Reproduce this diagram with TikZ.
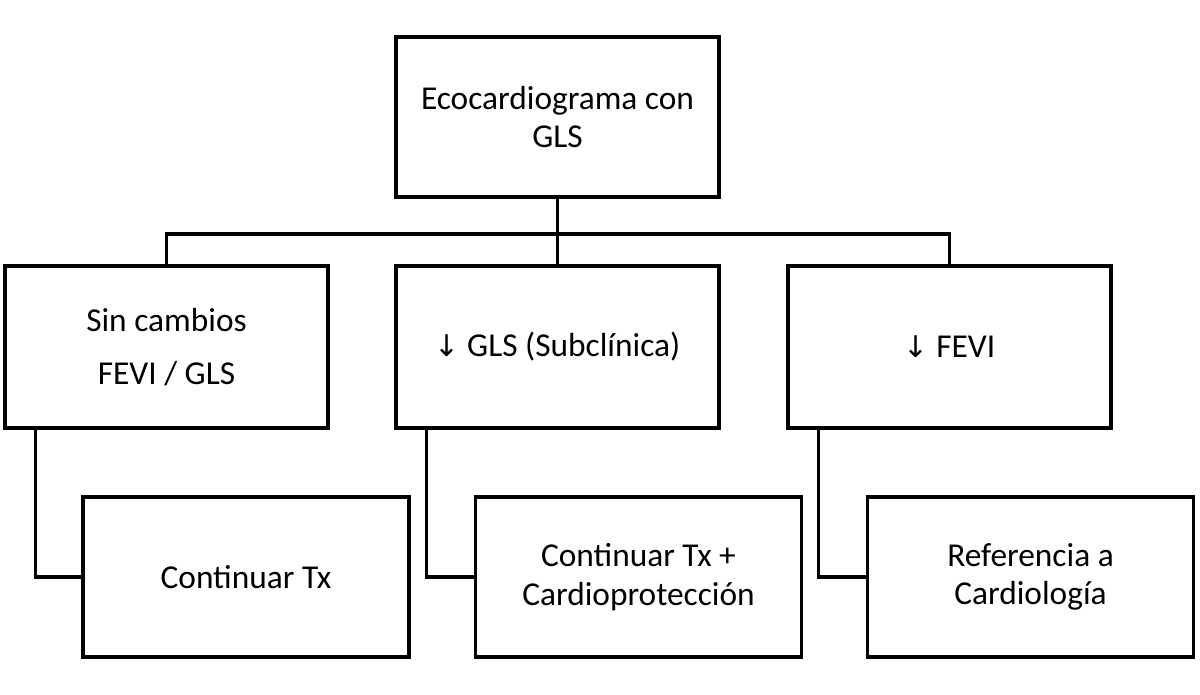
\documentclass[tikz,border=0pt]{standalone}
\usepackage{fontspec}
\setmainfont{Carlito}
\newfontfamily\arrowfont{DejaVu Sans}
\begin{document}
\begin{tikzpicture}[x=0.02cm, y=-0.02cm, line width=1.8pt,
   box/.style={draw=black, rectangle, align=center, font=\fontsize{19}{22}\selectfont,
      minimum width=323*0.02cm, minimum height=160*0.02cm, inner sep=0pt}]
   \useasboundingbox (0,0) rectangle (1200,695);
   %% nivel superior
   \node[box] (eco) at (557.5,117) {Ecocardiograma con\\GLS};
   %% nivel intermedio
   \node[box, minimum height=162*0.02cm] (sin) at (166.5,347) {Sin cambios\\[8pt]FEVI / GLS};
   \node[box, minimum height=162*0.02cm] (gls) at (557.5,347) {{\arrowfont\fontsize{17}{20}\selectfont ↓} GLS (Subclínica)};
   \node[box, minimum height=162*0.02cm] (fevi) at (949.5,347) {{\arrowfont\fontsize{17}{20}\selectfont ↓} FEVI};
   %% nivel inferior
   \node[box, minimum width=326*0.02cm] (cont) at (246,577) {Continuar Tx};
   \node[box, minimum width=326*0.02cm] (cardio) at (638.5,577) {Continuar Tx +\\Cardioprotección};
   \node[box, minimum width=326*0.02cm] (ref) at (1030.5,577) {Referencia a\\Cardiología};
   
   \coordinate (split) at (557.5,234);
   \draw (eco) -- (split);
   \draw (sin.north) |- (split) -| (fevi.north);
   \draw (split) -- (gls);
   
   \foreach \u/\v in {sin/cont, gls/cardio, fevi/ref}
   {
       \draw ([xshift=32*0.02cm]\u.south west) |- (\v.west);
   };
\end{tikzpicture}
\end{document}
